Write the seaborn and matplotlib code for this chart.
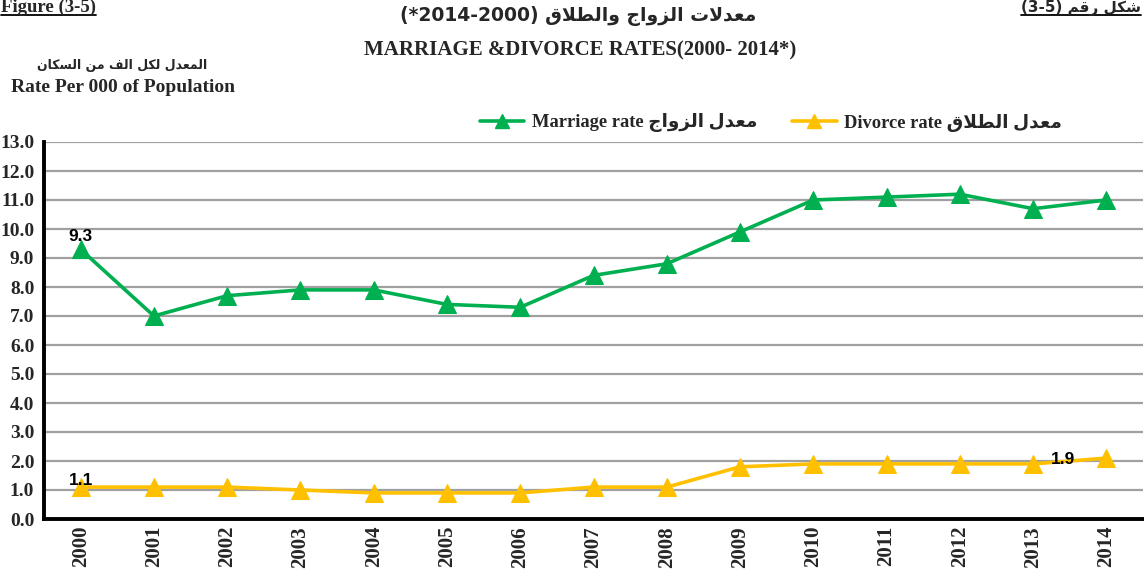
import numpy as np
import pandas as pd
import matplotlib
matplotlib.use("Agg")
import matplotlib.pyplot as plt
from matplotlib.lines import Line2D
import seaborn as sns

years = [str(y) for y in range(2000, 2015)]
marriage = [9.3, 7.0, 7.7, 7.9, 7.9, 7.4, 7.3, 8.4, 8.8, 9.9, 11.0, 11.1, 11.2, 10.7, 11.0]
divorce = [1.1, 1.1, 1.1, 1.0, 0.9, 0.9, 0.9, 1.1, 1.1, 1.8, 1.9, 1.9, 1.9, 1.9, 2.1]
yticks = list(range(0, 14))
series_names = ["Marriage rate", "Divorce rate"]
series_ar = ["معدل الزواج", "معدل الطلاق"]
colors = ["#00B050", "#FFC000"]

# ---------- minimal Arabic shaping (presentation forms, visual order) ----------
FORMS = {
    'ا': (0xFE8D, 0xFE8E, None, None),
    'ت': (0xFE95, 0xFE96, 0xFE97, 0xFE98),
    'ج': (0xFE9D, 0xFE9E, 0xFE9F, 0xFEA0),
    'د': (0xFEA9, 0xFEAA, None, None),
    'ر': (0xFEAD, 0xFEAE, None, None),
    'ز': (0xFEAF, 0xFEB0, None, None),
    'س': (0xFEB1, 0xFEB2, 0xFEB3, 0xFEB4),
    'ش': (0xFEB5, 0xFEB6, 0xFEB7, 0xFEB8),
    'ط': (0xFEC1, 0xFEC2, 0xFEC3, 0xFEC4),
    'ع': (0xFEC9, 0xFECA, 0xFECB, 0xFECC),
    'ف': (0xFED1, 0xFED2, 0xFED3, 0xFED4),
    'ق': (0xFED5, 0xFED6, 0xFED7, 0xFED8),
    'ك': (0xFED9, 0xFEDA, 0xFEDB, 0xFEDC),
    'ل': (0xFEDD, 0xFEDE, 0xFEDF, 0xFEE0),
    'م': (0xFEE1, 0xFEE2, 0xFEE3, 0xFEE4),
    'ن': (0xFEE5, 0xFEE6, 0xFEE7, 0xFEE8),
    'و': (0xFEED, 0xFEEE, None, None),
    'LA': (0xFEFB, 0xFEFC, None, None),
}


def shape_ar(text):
    units = []
    i = 0
    while i < len(text):
        if text[i] == 'ل' and i + 1 < len(text) and text[i + 1] == 'ا':
            units.append('LA')
            i += 2
        else:
            units.append(text[i])
            i += 1
    out = []
    for k, u in enumerate(units):
        if u not in FORMS:
            out.append(u)
            continue
        f = FORMS[u]
        prev = units[k - 1] if k > 0 else None
        nxt = units[k + 1] if k + 1 < len(units) else None
        pj = prev in FORMS and FORMS[prev][2] is not None
        nj = nxt in FORMS and f[2] is not None
        if pj and nj:
            cp = f[3]
        elif pj:
            cp = f[1]
        elif nj:
            cp = f[2]
        else:
            cp = f[0]
        out.append(chr(cp))
    return "".join(out[::-1])


# ---------- figure ----------
sns.set_style("white")
plt.rcParams['font.family'] = ['Liberation Serif', 'DejaVu Sans']

W, H = 1144, 582
fig = plt.figure(figsize=(W / 100, H / 100), dpi=100)


def fx(px):
    return px / W


def fy(py):
    return 1 - py / H


ax = fig.add_axes([fx(44), fy(519), fx(1143) - fx(44), (519 - 142) / H])

df = pd.DataFrame({
    "year": years * 2,
    "rate": marriage + divorce,
    "series": [series_names[0]] * len(years) + [series_names[1]] * len(years),
})

sns.lineplot(data=df, x="year", y="rate", hue="series", palette=colors,
             marker="^", markersize=13, linewidth=2.6,
             ax=ax, legend=False, zorder=3)
for ln, c in zip(ax.lines, colors):
    ln.set_markeredgecolor(c)
    ln.set_markerfacecolor(c)

ax.set_xlim(-0.5, len(years) - 0.5)
ax.set_ylim(0, 13)
ax.set_yticks(yticks)
ax.set_yticklabels([f"{v:.1f}" for v in yticks], fontsize=14, fontweight='bold',
                   family=['Liberation Serif'])
ax.set_xticks(range(len(years)))
ax.set_xticklabels(years, rotation=90, fontsize=15, fontweight='bold',
                   family=['Liberation Serif'])
ax.set_xticks(np.arange(-0.5, len(years) + 0.5, 1), minor=True)
ax.tick_params(axis='x', which='major', length=0, pad=5)
ax.tick_params(axis='x', which='minor', length=6, width=2.5, color='black', direction='out')
ax.tick_params(axis='y', which='major', length=6, width=2.5, color='black', direction='out', pad=1)
ax.set_xlabel("")
ax.set_ylabel("")
ax.yaxis.grid(True, color='#a0a0a0', linewidth=1.6, zorder=0)
ax.xaxis.grid(False)
ax.set_axisbelow(True)
for s in ['top', 'right']:
    ax.spines[s].set_visible(False)
for s in ['left', 'bottom']:
    ax.spines[s].set_color('black')
    ax.spines[s].set_linewidth(2.8)
ax.spines['bottom'].set_zorder(5)

# data labels
lab_font = dict(fontsize=12.5, fontweight='bold', family=['Liberation Sans'], color='black')
ax.annotate(f"{marriage[0]:.1f}", xy=(0, marriage[0]), xytext=(0, 13),
            textcoords='offset pixels', ha='center', va='center', zorder=6, **lab_font)
ax.annotate(f"{divorce[0]:.1f}", xy=(0, divorce[0]), xytext=(0, 7),
            textcoords='offset pixels', ha='center', va='center', zorder=6, **lab_font)
ax.annotate("1.9", xy=(14, divorce[14]), xytext=(-43, -1),
            textcoords='offset pixels', ha='center', va='center', zorder=6, **lab_font)

# legend
handles = [Line2D([0], [0], color=c, linewidth=2.6, marker='^', markersize=10,
                  markerfacecolor=c, markeredgecolor=c) for c in colors]
labels = [f"{n} " + shape_ar(a) for n, a in zip(series_names, series_ar)]
fig.legend(handles, labels, loc='center', bbox_to_anchor=(fx(771), fy(123)), ncol=2,
           frameon=False, handlelength=2.4, handletextpad=0.4, columnspacing=1.9,
           prop=dict(family=['Liberation Serif', 'DejaVu Sans'], weight='bold', size=13.3))

# titles
fig.text(fx(578), fy(16), "(*2014-2000) " + shape_ar("معدلات الزواج والطلاق"),
         ha='center', va='center', fontsize=13.5, fontweight='bold',
         family=['DejaVu Sans'])
fig.text(fx(580), fy(50), "MARRIAGE &DIVORCE RATES(2000- 2014*)",
         ha='center', va='center', fontsize=15, fontweight='bold',
         family=['Liberation Serif'])
fig.text(fx(122), fy(65), shape_ar("المعدل لكل الف من السكان"),
         ha='center', va='center', fontsize=9, fontweight='bold', family=['DejaVu Sans'])
fig.text(fx(123), fy(88), "Rate Per 000 of Population",
         ha='center', va='center', fontsize=14, fontweight='bold',
         family=['Liberation Serif'])

t1 = fig.text(fx(1), fy(12), "Figure (3-5)", ha='left', va='baseline',
              fontsize=13.5, fontweight='bold', family=['Liberation Serif'])
t2 = fig.text(fx(1141), fy(12), "(3-5) " + shape_ar("شكل رقم"), ha='right', va='baseline',
              fontsize=11, fontweight='bold', family=['DejaVu Sans'])

fig.canvas.draw()
r = fig.canvas.get_renderer()
for t in (t1, t2):
    bb = t.get_window_extent(renderer=r)
    yline = fy(15)
    fig.add_artist(Line2D([bb.x0 / W, bb.x1 / W], [yline, yline],
                          transform=fig.transFigure, color='black', linewidth=1.3))

fig.savefig("out.png", dpi=100, facecolor='white')
